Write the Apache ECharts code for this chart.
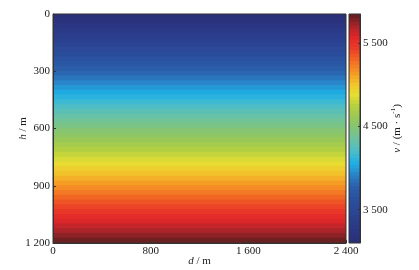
<!DOCTYPE html>
<html>
<head>
<meta charset="utf-8">
<script src="https://cdn.jsdelivr.net/npm/echarts@6/dist/echarts.min.js"></script>
<style>
html,body{margin:0;padding:0;background:#fff;}
#chart{width:419px;height:270px;}
</style>
</head>
<body>
<div id="chart"></div>
<script>
// distance range (m) of the model, horizontally uniform
var distEdges = [0, 2400];
// depth layer boundaries (m)
var depthEdges = [0, 25, 50, 75, 100, 125, 150, 175, 200, 225, 250, 275, 300, 325, 350, 375, 400, 425, 450, 475, 500, 525, 550, 575, 600, 625, 650, 675, 700, 725, 750, 775, 800, 825, 850, 875, 900, 925, 950, 975, 1000, 1025, 1050, 1075, 1100, 1125, 1150, 1175, 1200];
var layerVelocity = [3129, 3186, 3243, 3301, 3358, 3415, 3472, 3530, 3587, 3644, 3702, 3759, 3816, 3873, 3931, 3988, 4045, 4102, 4160, 4217, 4274, 4331, 4389, 4446, 4503, 4560, 4618, 4675, 4732, 4789, 4847, 4904, 4961, 5018, 5076, 5133, 5190, 5247, 5305, 5362, 5419, 5477, 5534, 5591, 5648, 5706, 5763, 5820];
// tick labels
var xTicks = [0, 800, 1600, 2400];
var yTicks = [0, 300, 600, 900, 1200];
var cbTicks = [3500, 4500, 5500];
var vMin = 3100, vMax = 5850;

var palette = ['#2a2f75','#2b3683','#2b3e8c','#2b4896','#2a52a0','#2b60ab','#2a84c8','#1fb0e6','#4abcc8','#6ac2a6','#80c47a','#99c858','#b6d040','#e6df33','#f3c02a','#f59424','#f26824','#ea3e27','#e2262a','#a8242a','#5c1d1f'];

var mainData = [];
for (var i = 0; i < layerVelocity.length; i++) {
  mainData.push([distEdges[0], distEdges[1], depthEdges[i], depthEdges[i + 1], layerVelocity[i]]);
}
var cbSteps = 64, cbData = [];
for (var k = 0; k < cbSteps; k++) {
  var lo = vMin + (vMax - vMin) * k / cbSteps, hi = vMin + (vMax - vMin) * (k + 1) / cbSteps;
  cbData.push([0, 1, lo, hi, (lo + hi) / 2]);
}

var FONT = "'Liberation Serif','Times New Roman',serif";
var TXT = '#1a1a1a';
function fmt(v) { return String(v).replace(/\B(?=(\d{3})+(?!\d))/g, ' '); }

function rectItem(params, api) {
  var p0 = api.coord([api.value(0), api.value(2)]);
  var p1 = api.coord([api.value(1), api.value(3)]);
  var x = Math.min(p0[0], p1[0]), y = Math.min(p0[1], p1[1]);
  return {
    type: 'rect',
    shape: { x: x, y: y - 0.5, width: Math.abs(p1[0] - p0[0]), height: Math.abs(p1[1] - p0[1]) + 1 },
    style: { fill: api.visual('color') }
  };
}

var nameStyle = { color: TXT, fontSize: 11, fontFamily: FONT, rich: {
  i: { fontStyle: 'italic', fontSize: 11, fontFamily: FONT, color: TXT },
  sup: { fontSize: 7, fontFamily: FONT, color: TXT, verticalAlign: 'top', lineHeight: 14 }
} };

var chart = echarts.init(document.getElementById('chart'), null, { renderer: 'canvas' });
chart.setOption({
  animation: false,
  backgroundColor: '#fff',
  textStyle: { fontFamily: FONT },
  grid: [
    { left: 53, top: 14, width: 293, height: 229, outerBoundsMode: 'none', containLabel: false, show: true, z: 10, backgroundColor: 'transparent', borderColor: '#333', borderWidth: 1 },
    { left: 349, top: 14, width: 11, height: 229, outerBoundsMode: 'none', containLabel: false, show: true, z: 10, backgroundColor: 'transparent', borderColor: '#333', borderWidth: 1 }
  ],
  visualMap: {
    type: 'continuous', show: false, min: vMin, max: vMax, dimension: 4, seriesIndex: [0, 1],
    inRange: { color: palette }
  },
  xAxis: [
    {
      gridIndex: 0, type: 'value', min: xTicks[0], max: xTicks[xTicks.length - 1], interval: 800, z: 10,
      axisLine: { show: true, onZero: false, lineStyle: { color: '#333', width: 1 } },
      axisTick: { show: true, inside: true, length: 3, lineStyle: { color: '#333' } },
      splitLine: { show: false },
      axisLabel: { color: TXT, fontSize: 11, fontFamily: FONT, margin: 3, formatter: fmt },
      name: '{i|d} / m', nameLocation: 'middle', nameGap: 13, nameMoveOverlap: false,
      nameTextStyle: nameStyle
    },
    { gridIndex: 1, type: 'value', min: 0, max: 1, show: false }
  ],
  yAxis: [
    {
      gridIndex: 0, type: 'value', inverse: true, min: yTicks[0], max: yTicks[yTicks.length - 1], interval: 300, z: 10,
      axisLine: { show: true, onZero: false, lineStyle: { color: '#333', width: 1 } },
      axisTick: { show: true, inside: true, length: 3, lineStyle: { color: '#333' } },
      splitLine: { show: false },
      axisLabel: { color: TXT, fontSize: 11, fontFamily: FONT, margin: 3, formatter: fmt },
      name: '{i|h} / m', nameLocation: 'middle', nameGap: 24, nameMoveOverlap: false,
      nameTextStyle: nameStyle
    },
    {
      gridIndex: 1, type: 'value', position: 'right', min: vMin, max: vMax, z: 10,
      axisLine: { show: true, onZero: false, lineStyle: { color: '#333', width: 1 } },
      axisTick: { show: true, inside: true, length: 2, customValues: cbTicks, lineStyle: { color: '#333' } },
      splitLine: { show: false },
      axisLabel: { color: TXT, fontSize: 11, fontFamily: FONT, margin: 3, customValues: cbTicks, formatter: fmt },
      name: '{i|v} / (m · s{sup|-1})', nameLocation: 'middle', nameGap: 30, nameMoveOverlap: false,
      nameTextStyle: nameStyle
    }
  ],
  series: [
    { type: 'custom', xAxisIndex: 0, yAxisIndex: 0, clip: true, renderItem: rectItem, encode: { x: [0, 1], y: [2, 3] }, data: mainData, silent: true },
    { type: 'custom', xAxisIndex: 1, yAxisIndex: 1, clip: true, renderItem: rectItem, encode: { x: [0, 1], y: [2, 3] }, data: cbData, silent: true }
  ]
});
</script>
</body>
</html>
